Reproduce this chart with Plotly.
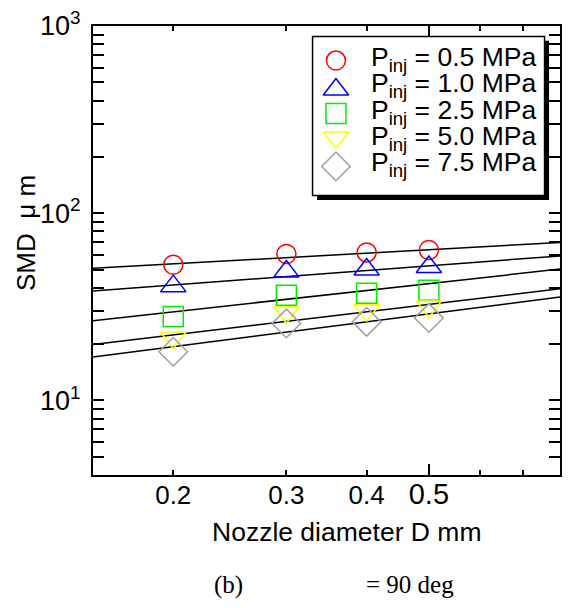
import plotly.graph_objects as go

# Nozzle diameter (mm) and measured Sauter mean diameter (um)
diameters = [0.2, 0.3, 0.4, 0.5]
pressures = ["0.5", "1.0", "2.5", "5.0", "7.5"]
smd_05 = [53.1, 60.6, 61.8, 63.6]
smd_10 = [40.8, 48.8, 50.1, 51.6]
smd_25 = [28.1, 36.5, 37.4, 38.8]
smd_50 = [21.7, 29.6, 30.3, 31.8]
smd_75 = [18.2, 25.8, 26.3, 27.6]

# Power-law fit lines, evaluated at the ends of the x range
fit_d = [0.15, 0.8]
fit_05 = [50.8, 69.8]
fit_10 = [38.4, 59.2]
fit_25 = [26.7, 50.3]
fit_50 = [19.9, 39.5]
fit_75 = [17.06, 35.7]

x_tick_vals = [0.2, 0.3, 0.4, 0.5]
x_tick_text = ["0.2", "0.3", "0.4", "<span style='font-size:29px'>0.5</span>"]
y_tick_vals = [10, 100, 1000]
y_tick_text = ["10<sup>1</sup>", "10<sup>2</sup>", "10<sup>3</sup>"]

series = [smd_05, smd_10, smd_25, smd_50, smd_75]
fits = [fit_05, fit_10, fit_25, fit_50, fit_75]
symbols = ["circle-open", "triangle-up-open", "square-open", "triangle-down-open", "diamond-open"]
sizes = [19, 22, 20, 22, 22]
colors = ["#ff0000", "#0000ff", "#00ee00", "#ffff00", "#a0a0a0"]

FONT = "Liberation Sans, Arial, sans-serif"
SERIF = "Liberation Serif, Times New Roman, serif"

# plot area in pixels
L, R, T, B = 93, 7, 21, 133
W, H = 569, 608
PW, PH = W - L - R, H - T - B


def px_x(px):
    return (px - L) / PW


def px_y(py):
    return (H - B - py) / PH


fig = go.Figure()

for fy in fits:
    fig.add_trace(go.Scatter(x=fit_d, y=fy, mode="lines",
                             line=dict(color="black", width=1.5),
                             showlegend=False, hoverinfo="skip"))

for ys, sym, sz, col, p in zip(series, symbols, sizes, colors, pressures):
    fig.add_trace(go.Scatter(x=diameters, y=ys, mode="markers",
                             marker=dict(symbol=sym, size=sz, color=col,
                                         line=dict(color=col, width=1.5)),
                             name=f"P<sub>inj</sub> = {p} MPa",
                             showlegend=False))

# extra long tick at D = 0.5 on an overlaid axis
fig.add_trace(go.Scatter(x=[0.5], y=[100], xaxis="x3", mode="markers",
                         marker=dict(opacity=0), showlegend=False,
                         hoverinfo="skip"))

# legend panel: markers on an overlay axis in [0, 1] plot-fraction units
leg_x = px_x(337)
row0, row_gap = 56.0, 26.75
marker_offsets = [0, 2.5, 0, -2.5, 0]
for i, (sym, sz, col) in enumerate(zip(symbols, sizes, colors)):
    fig.add_trace(go.Scatter(x=[leg_x], y=[px_y(row0 + i * row_gap + marker_offsets[i])],
                             xaxis="x2", yaxis="y2", mode="markers",
                             marker=dict(symbol=sym, size=sz, color=col,
                                         line=dict(color=col, width=1.5)),
                             showlegend=False, hoverinfo="skip"))

shapes = []
bx0, bx1, by0, by1 = px_x(313.5), px_x(546.5), px_y(192.5), px_y(31.5)
sdx, sdy = 4.5 / PW, 4.5 / PH
shapes.append(dict(type="rect", xref="paper", yref="paper", layer="below",
                   x0=bx0 + sdx, x1=bx1 + sdx, y0=by0 - sdy, y1=by1 - sdy,
                   fillcolor="black", line=dict(width=0)))
shapes.append(dict(type="rect", xref="paper", yref="paper", layer="below",
                   x0=bx0, x1=bx1, y0=by0, y1=by1,
                   fillcolor="white", line=dict(color="black", width=1.5)))

annotations = []
for i, p in enumerate(pressures):
    annotations.append(dict(xref="paper", yref="paper", x=px_x(370), y=px_y(row0 - 2 + i * row_gap),
                            xanchor="left", yanchor="middle", showarrow=False,
                            text=f"P<sub>inj</sub> = {p} MPa",
                            font=dict(family=FONT, size=26.5, color="black")))

annotations.append(dict(xref="paper", yref="paper", x=px_x(25), y=px_y(230),
                        xanchor="center", yanchor="middle", showarrow=False,
                        textangle=-90, text="SMD  \u03bc m",
                        font=dict(family=FONT, size=26, color="black")))
annotations.append(dict(xref="paper", yref="paper", x=px_x(348), y=px_y(533),
                        xanchor="center", yanchor="middle", showarrow=False,
                        text="Nozzle diameter D mm",
                        font=dict(family=FONT, size=26.5, color="black")))
annotations.append(dict(xref="paper", yref="paper", x=px_x(229), y=px_y(586),
                        xanchor="center", yanchor="middle", showarrow=False,
                        text="(b)",
                        font=dict(family=SERIF, size=25, color="black")))
annotations.append(dict(xref="paper", yref="paper", x=px_x(365), y=px_y(586),
                        xanchor="left", yanchor="middle", showarrow=False,
                        text="= 90 deg",
                        font=dict(family=SERIF, size=25, color="black")))

x_range = [-0.82391, -0.09691]

fig.update_layout(
    width=W, height=H,
    margin=dict(l=L, r=R, t=T, b=B),
    paper_bgcolor="white", plot_bgcolor="white",
    showlegend=False,
    xaxis=dict(type="log", range=x_range,
               tickvals=x_tick_vals, ticktext=x_tick_text,
               ticks="inside", ticklen=5, tickwidth=1.5, tickcolor="black",
               minor=dict(tickvals=[0.6, 0.7], ticks="inside", ticklen=5,
                          tickwidth=1.5, tickcolor="black", showgrid=False),
               showline=True, linecolor="black", linewidth=2, mirror="allticks",
               showgrid=False, zeroline=False,
               tickfont=dict(family=FONT, size=26, color="black"),
               ticklabelstandoff=-4),
    xaxis3=dict(type="log", range=x_range, overlaying="x", anchor="y",
                tickvals=[0.5], ticks="inside", ticklen=11, tickwidth=1.5,
                tickcolor="black", showticklabels=False, showline=False,
                mirror="allticks", showgrid=False, zeroline=False),
    yaxis=dict(type="log", range=[0.60206, 3],
               tickvals=y_tick_vals, ticktext=y_tick_text,
               ticks="inside", ticklen=11, tickwidth=1.5, tickcolor="black",
               minor=dict(tickvals=[4, 5, 6, 7, 8, 9, 20, 30, 40, 50, 60, 70, 80, 90,
                                    200, 300, 400, 500, 600, 700, 800, 900],
                          ticks="inside", ticklen=7, tickwidth=1.5,
                          tickcolor="black", showgrid=False),
               showline=True, linecolor="black", linewidth=2, mirror="allticks",
               showgrid=False, zeroline=False,
               tickfont=dict(family=FONT, size=27, color="black"),
               ticklabelstandoff=5),
    xaxis2=dict(overlaying="x", anchor="y2", range=[0, 1], visible=False),
    yaxis2=dict(overlaying="y", anchor="x2", range=[0, 1], visible=False),
    shapes=shapes,
    annotations=annotations,
)

fig.write_html("out.html")
